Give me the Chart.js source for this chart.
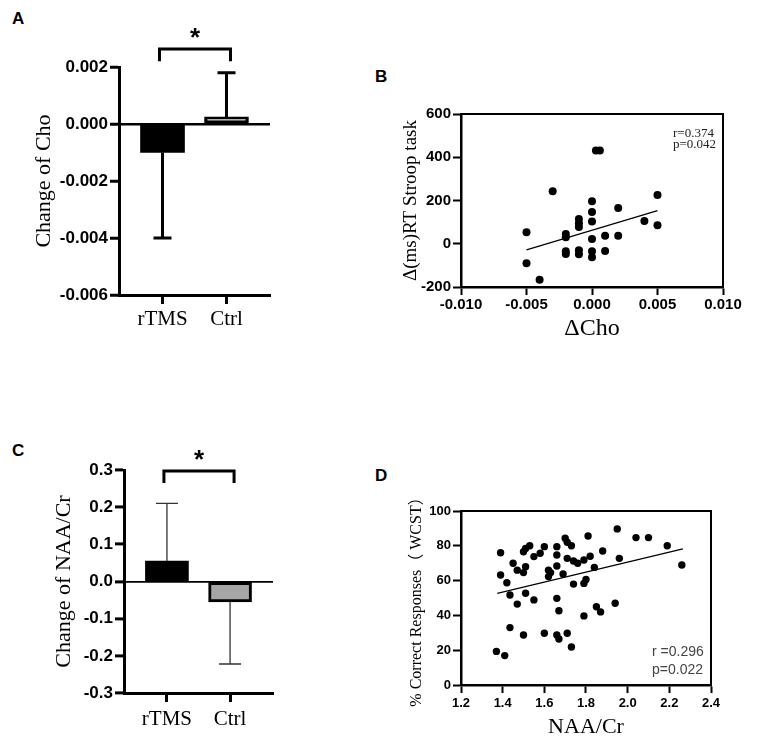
<!DOCTYPE html>
<html>
<head>
<meta charset="utf-8">
<script src="https://cdn.jsdelivr.net/npm/chart.js@4.4.1/dist/chart.umd.min.js"></script>
<style>
  body { margin: 0; background: #fff; width: 765px; height: 756px; position: relative; overflow: hidden; }
  canvas { position: absolute; }
  .lbl { position: absolute; font: bold 17px "Liberation Sans", Arial, sans-serif; line-height: 17px; }
  .note { position: absolute; white-space: nowrap; }
  .noteB { font: 13px "Liberation Serif", "Times New Roman", serif; line-height: 11px; color: #222; }
  .noteD { font: 14px "Liberation Sans", Arial, sans-serif; line-height: 18px; color: #444; }
</style>
</head>
<body>
<div class="lbl" style="left:12px;top:10px">A</div>
<div class="lbl" style="left:375px;top:68px">B</div>
<div class="lbl" style="left:12px;top:442px">C</div>
<div class="lbl" style="left:375px;top:467px">D</div>

<canvas id="chartA" style="left:0;top:0" width="300" height="345"></canvas>
<canvas id="chartB" style="left:380px;top:60px" width="385" height="300"></canvas>
<canvas id="chartC" style="left:0;top:400px" width="300" height="345"></canvas>
<canvas id="chartD" style="left:380px;top:440px" width="385" height="316"></canvas>

<div class="note noteB" style="left:673px;top:127px">r=0.374<br>p=0.042</div>
<div class="note noteD" style="left:652px;top:642px">r =0.296<br>p=0.022</div>

<script>
// Gruppen der Balkendiagramme
const groups = ['rTMS', 'Ctrl'];

// A: Veränderung Cho (Mittelwert und Ende des Fehlerbalkens)
const choMean = [-0.001, 0.00025];
const choErrEnd = [-0.004, 0.0018];
const choBracket = [0.00263, 0.0022];

// C: Veränderung NAA/Cr
const naaMean = [0.055, -0.055];
const naaErrEnd = [0.21, -0.222];
const naaBracket = [0.297, 0.265];

// B: ΔCho vs Δ(ms)RT Stroop
const choX = [-0.005, -0.005, -0.004, -0.003, -0.002, -0.002, -0.002, -0.002, -0.001, -0.001, -0.001, -0.001, -0.001,
  0, 0, 0, 0, 0, 0, 0.0003, 0.0006, 0.001, 0.001, 0.002, 0.002, 0.004, 0.005, 0.005];
const stroopY = [53, -90, -166, 243, 45, 30, -35, -47, 115, 95, 78, -30, -48,
  197, 147, 103, 22, -35, -62, 431, 431, 37, -33, 165, 37, 105, 225, 85];
const fitBX = [-0.005, 0.005];
const fitBY = [-28, 153];

// D: NAA/Cr vs % Correct Responses (WCST)
const naaX = [1.37, 1.41, 1.39, 1.39, 1.42, 1.435, 1.435, 1.45, 1.47, 1.47, 1.50, 1.51, 1.50, 1.51, 1.51, 1.50,
  1.53, 1.55, 1.55, 1.58, 1.60, 1.60, 1.62, 1.62, 1.63, 1.66, 1.66, 1.66, 1.66, 1.67, 1.66, 1.67, 1.69,
  1.70, 1.71, 1.71, 1.73, 1.71, 1.73, 1.74, 1.74, 1.76, 1.79, 1.80, 1.79, 1.79, 1.81, 1.82, 1.84, 1.85,
  1.87, 1.88, 1.94, 1.95, 1.96, 2.04, 2.10, 2.19, 2.26];
const wcstY = [19.3, 16.9, 76, 63.2, 58.8, 51.7, 33, 70, 66, 46.5, 76.6, 78.5, 64.6, 68, 52.7, 28.7,
  80, 48.9, 73.8, 75.7, 79.5, 29.7, 66, 62.3, 64.6, 79.5, 74.7, 68.4, 49.8, 42.7, 28.7, 26.4, 63.8,
  84.3, 82, 72.8, 80, 29.7, 21.8, 71.3, 58, 70, 71.8, 60.7, 58.4, 39.7, 85.6, 74, 67.6, 45,
  42, 77, 47, 89.7, 72.8, 84.7, 84.7, 80, 69];
const fitDX = [1.374, 2.265];
const fitDY = [52.7, 78.2];

const SANS = '"Liberation Sans", Arial, sans-serif';
const SERIF = '"Liberation Serif", "Times New Roman", "Noto Sans CJK SC", serif';

Chart.defaults.animation = false;
Chart.defaults.color = '#000';

function toPoints(xs, ys) {
  return xs.map((x, i) => ({ x: x, y: ys[i] }));
}

// Fehlerbalken, Klammer und Stern über den Balken
function barExtras(means, ends, bracket, capW, lw, errColor) {
  return {
    id: 'barExtras',
    afterDatasetsDraw(chart) {
      const { ctx, scales: { x, y } } = chart;
      ctx.save();
      ctx.strokeStyle = errColor;
      ctx.lineWidth = lw;
      means.forEach((m, i) => {
        const px = x.getPixelForValue(i + 1);
        const y0 = y.getPixelForValue(m);
        const y1 = y.getPixelForValue(ends[i]);
        ctx.beginPath();
        ctx.moveTo(px, y0);
        ctx.lineTo(px, y1);
        ctx.moveTo(px - capW / 2, y1);
        ctx.lineTo(px + capW / 2, y1);
        ctx.stroke();
      });
      const bx0 = x.getPixelForValue(1) - 3;
      const bx1 = x.getPixelForValue(2) + 4;
      const by = y.getPixelForValue(bracket[0]);
      const bl = y.getPixelForValue(bracket[1]);
      ctx.strokeStyle = '#000';
      ctx.lineWidth = 3;
      ctx.beginPath();
      ctx.moveTo(bx0, bl);
      ctx.lineTo(bx0, by);
      ctx.lineTo(bx1, by);
      ctx.lineTo(bx1, bl);
      ctx.stroke();
      ctx.fillStyle = '#000';
      ctx.font = 'bold 26px ' + SANS;
      ctx.textAlign = 'center';
      ctx.textBaseline = 'alphabetic';
      ctx.fillText('*', (bx0 + bx1) / 2, by - 3);
      ctx.restore();
    }
  };
}

// Rahmen oben und rechts für die Streudiagramme
const frame = {
  id: 'frame',
  afterDraw(chart) {
    const { ctx, chartArea: a } = chart;
    ctx.save();
    ctx.strokeStyle = '#000';
    ctx.lineWidth = 2;
    ctx.beginPath();
    ctx.moveTo(a.left, a.top);
    ctx.lineTo(a.right, a.top);
    ctx.lineTo(a.right, a.bottom);
    ctx.stroke();
    ctx.restore();
  }
};

function barChart(id, means, ends, bracket, opts) {
  return new Chart(document.getElementById(id), {
    type: 'bar',
    data: {
      datasets: [{
        data: toPoints([1, 2], means),
        backgroundColor: opts.fills,
        borderColor: '#000',
        borderWidth: [0, 3],
        borderSkipped: false,
        barThickness: opts.barW
      }]
    },
    options: {
      responsive: false,
      layout: { padding: { top: opts.top, right: opts.right, left: 0, bottom: 0 } },
      plugins: { legend: { display: false }, tooltip: { enabled: false } },
      scales: {
        x: {
          type: 'linear',
          offset: false,
          min: 0.32,
          max: 2.68,
          afterBuildTicks: s => { s.ticks = [{ value: 1 }, { value: 2 }]; },
          afterFit: s => { s.height = opts.xH; },
          ticks: {
            autoSkip: false,
            callback: v => groups[v - 1],
            font: { family: SERIF, size: 21 },
            padding: opts.xPad
          },
          grid: { offset: false, drawOnChartArea: false, tickLength: 9, tickWidth: 3, tickColor: '#000', color: '#000' },
          border: { color: '#000', width: 3 }
        },
        y: {
          min: opts.min,
          max: opts.max,
          afterFit: s => { s.width = opts.yW; },
          ticks: {
            stepSize: opts.step,
            callback: v => (Math.abs(v) < 1e-9 ? 0 : v).toFixed(opts.dec),
            font: { family: SANS, size: 17, weight: 'bold' },
            padding: 2
          },
          grid: {
            color: c => Math.abs(c.tick.value) < 1e-9 ? '#000' : 'rgba(0,0,0,0)',
            lineWidth: opts.zeroW,
            tickLength: 9,
            tickWidth: 3,
            tickColor: '#000'
          },
          border: { color: '#000', width: 3 },
          title: {
            display: true,
            text: opts.title,
            font: { family: SERIF, size: 22, lineHeight: 1 },
            padding: { top: opts.titlePad, bottom: 0 }
          }
        }
      }
    },
    plugins: [barExtras(means, ends, bracket, opts.capW, opts.errW, opts.errColor)]
  });
}

function scatterChart(id, xs, ys, fx, fy, opts) {
  return new Chart(document.getElementById(id), {
    type: 'scatter',
    data: {
      datasets: [{
        data: toPoints(xs, ys),
        backgroundColor: '#000',
        borderColor: '#000',
        pointRadius: opts.r,
        borderWidth: 0
      }, {
        type: 'line',
        data: toPoints(fx, fy),
        borderColor: '#000',
        borderWidth: 1.2,
        pointRadius: 0,
        fill: false
      }]
    },
    options: {
      responsive: false,
      layout: { padding: { top: opts.top, right: opts.right, left: 0, bottom: 0 } },
      plugins: { legend: { display: false }, tooltip: { enabled: false } },
      scales: {
        x: {
          type: 'linear',
          min: opts.xMin,
          max: opts.xMax,
          afterFit: s => { s.height = opts.xH; },
          ticks: {
            stepSize: opts.xStep,
            callback: v => (Math.abs(v) < 1e-9 ? 0 : v).toFixed(opts.xDec),
            font: { family: SANS, size: opts.tickSize, weight: 'bold' },
            padding: opts.xPad
          },
          grid: { drawOnChartArea: false, tickLength: 8, tickWidth: 2, tickColor: '#000', color: '#000' },
          border: { color: '#000', width: 2.5 },
          title: {
            display: true,
            text: opts.xTitle,
            font: { family: SERIF, size: opts.xTitleSize, lineHeight: 1 },
            padding: { top: 0, bottom: opts.xTitlePad }
          }
        },
        y: {
          min: opts.yMin,
          max: opts.yMax,
          afterFit: s => { s.width = opts.yW; },
          ticks: {
            stepSize: opts.yStep,
            font: { family: SANS, size: opts.tickSize, weight: 'bold' },
            padding: 2
          },
          grid: { drawOnChartArea: false, tickLength: 8, tickWidth: 2, tickColor: '#000', color: '#000' },
          border: { color: '#000', width: 2.5 },
          title: {
            display: true,
            text: opts.yTitle,
            font: { family: SERIF, size: opts.yTitleSize, lineHeight: 1 },
            padding: { top: opts.yTitlePad, bottom: 0 }
          }
        }
      }
    },
    plugins: [frame]
  });
}

barChart('chartA', choMean, choErrEnd, choBracket, {
  min: -0.006, max: 0.002, step: 0.002, dec: 3,
  top: 67, right: 30, yW: 119, xH: 50, xPad: 3,
  fills: ['#000', '#dcdcdc'], barW: 44, zeroW: 2.5,
  capW: 18, errW: 3, errColor: '#000',
  title: 'Change of Cho', titlePad: 33
});

barChart('chartC', naaMean, naaErrEnd, naaBracket, {
  min: -0.3, max: 0.3, step: 0.1, dec: 1,
  top: 70, right: 27, yW: 124, xH: 52, xPad: 5,
  fills: ['#000', '#a6a6a6'], barW: 43, zeroW: 1.8,
  capW: 22, errW: 1.3, errColor: '#333',
  title: 'Change of NAA/Cr', titlePad: 53
});

scatterChart('chartB', choX, stroopY, fitBX, fitBY, {
  xMin: -0.01, xMax: 0.01, xStep: 0.005, xDec: 3,
  yMin: -200, yMax: 600, yStep: 200,
  top: 54, right: 42, yW: 81, xH: 73, xPad: 1, tickSize: 15, r: 4,
  xTitle: 'ΔCho', xTitleSize: 24, xTitlePad: 19,
  yTitle: 'Δ(ms)RT Stroop task', yTitleSize: 19, yTitlePad: 22
});

scatterChart('chartD', naaX, wcstY, fitDX, fitDY, {
  xMin: 1.2, xMax: 2.4, xStep: 0.2, xDec: 1,
  yMin: 0, yMax: 100, yStep: 20,
  top: 71, right: 54, yW: 81, xH: 71, xPad: 3, tickSize: 13, r: 3.7,
  xTitle: 'NAA/Cr', xTitleSize: 22, xTitlePad: 18,
  yTitle: '% Correct Responses（ WCST）', yTitleSize: 16, yTitlePad: 29
});
</script>
</body>
</html>
